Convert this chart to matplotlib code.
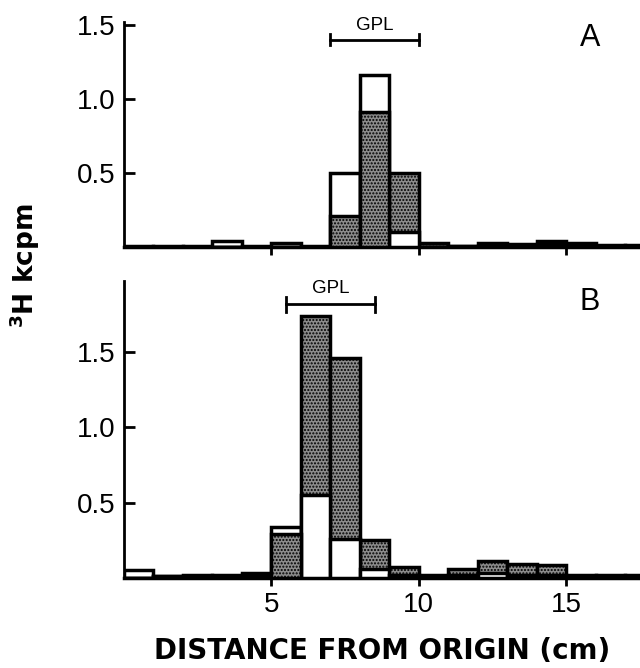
import numpy as np
import matplotlib
matplotlib.use("Agg")
import matplotlib.pyplot as plt

plt.rcParams['font.family'] = ['Liberation Sans', 'DejaVu Sans']
plt.rcParams['hatch.color'] = 'black'
plt.rcParams['hatch.linewidth'] = 1.0

# 1 cm slices from origin (left edges)
bins = np.arange(0, 18)

# panel A, kcpm per slice
white_a = [0.01, 0.01, 0.01, 0.04, 0.01, 0.03, 0.01, 0.50, 1.16, 0.10,
           0.00, 0.01, 0.03, 0.01, 0.02, 0.01, 0.01, 0.01]
stip_a = [0.00, 0.00, 0.00, 0.00, 0.00, 0.00, 0.00, 0.21, 0.91, 0.50,
          0.03, 0.01, 0.01, 0.02, 0.04, 0.03, 0.015, 0.015]

# panel B
white_b = [0.05, 0.01, 0.01, 0.01, 0.02, 0.34, 0.55, 0.26, 0.06, 0.02,
           0.02, 0.02, 0.03, 0.02, 0.02, 0.02, 0.02, 0.02]
stip_b = [0.00, 0.015, 0.02, 0.02, 0.035, 0.29, 1.74, 1.46, 0.25, 0.07,
          0.01, 0.06, 0.11, 0.09, 0.085, 0.01, 0.01, 0.01]

gpl_a = (7.0, 10.0)
gpl_b = (5.5, 8.5)
yticks = [0.5, 1.0, 1.5]
xticks = [5, 10, 15]

W, H = 640, 668
fig = plt.figure(figsize=(W / 100, H / 100), dpi=100)
ax_a = fig.add_axes([124 / W, 1 - 247 / H, 516 / W, 225 / H])
ax_b = fig.add_axes([124 / W, 1 - 578 / H, 516 / W, 297 / H])


def draw(ax, white, stip, ytop, gpl, letter):
    white = np.array(white)
    stip = np.array(stip)
    wb = ax.bar(bins, white, width=1.0, align='edge', facecolor='white',
                edgecolor='black', linewidth=2.5)
    sb = ax.bar(bins, stip, width=1.0, align='edge', facecolor='#8c8c8c',
                edgecolor='black', linewidth=2.5, hatch='.....')
    # smaller value of each slice drawn in front
    for w, s, pw, ps in zip(white, stip, wb.patches, sb.patches):
        if w <= s:
            pw.set_zorder(3)
            ps.set_zorder(2)
        else:
            pw.set_zorder(2)
            ps.set_zorder(3)
    ax.set_xlim(0, 17.5)
    ax.set_ylim(0, ytop)
    ax.spines['top'].set_visible(False)
    ax.spines['right'].set_visible(False)
    ax.spines['left'].set_linewidth(2.0)
    ax.spines['bottom'].set_linewidth(2.5)
    ax.set_yticks(yticks)
    ax.set_yticklabels(['%.1f' % v for v in yticks])
    ax.set_xticks(xticks)
    ax.tick_params(axis='y', direction='in', length=8, width=2,
                   labelsize=20, pad=6)
    ax.tick_params(axis='x', direction='out', length=6, width=2,
                   labelsize=20, pad=4)
    # GPL bracket
    yb = ytop * 0.922
    ax.plot(gpl, [yb, yb], color='black', lw=2, zorder=5)
    for xe in gpl:
        ax.plot([xe, xe], [yb - ytop * 0.025, yb + ytop * 0.025],
                color='black', lw=2, zorder=5)
    ax.text(sum(gpl) / 2, yb + ytop * 0.025, 'GPL', ha='center',
            va='bottom', fontsize=13.5)
    ax.text(15.8, ytop * 0.93, letter, ha='center', va='center',
            fontsize=22)


draw(ax_a, white_a, stip_a, 1.52, gpl_a, 'A')
draw(ax_b, white_b, stip_b, 1.97, gpl_b, 'B')
ax_a.set_xticklabels([])

fig.text(25 / W, 1 - 266 / H, r'$^{\mathbf{3}}$H kcpm', rotation=90,
         ha='center', va='center', fontsize=19, fontweight='bold',
         family='DejaVu Sans')
fig.text(382 / W, 1 - 651 / H, 'DISTANCE FROM ORIGIN (cm)', ha='center',
         va='center', fontsize=20, fontweight='bold', family='DejaVu Sans')

fig.savefig('out.png', dpi=100)
